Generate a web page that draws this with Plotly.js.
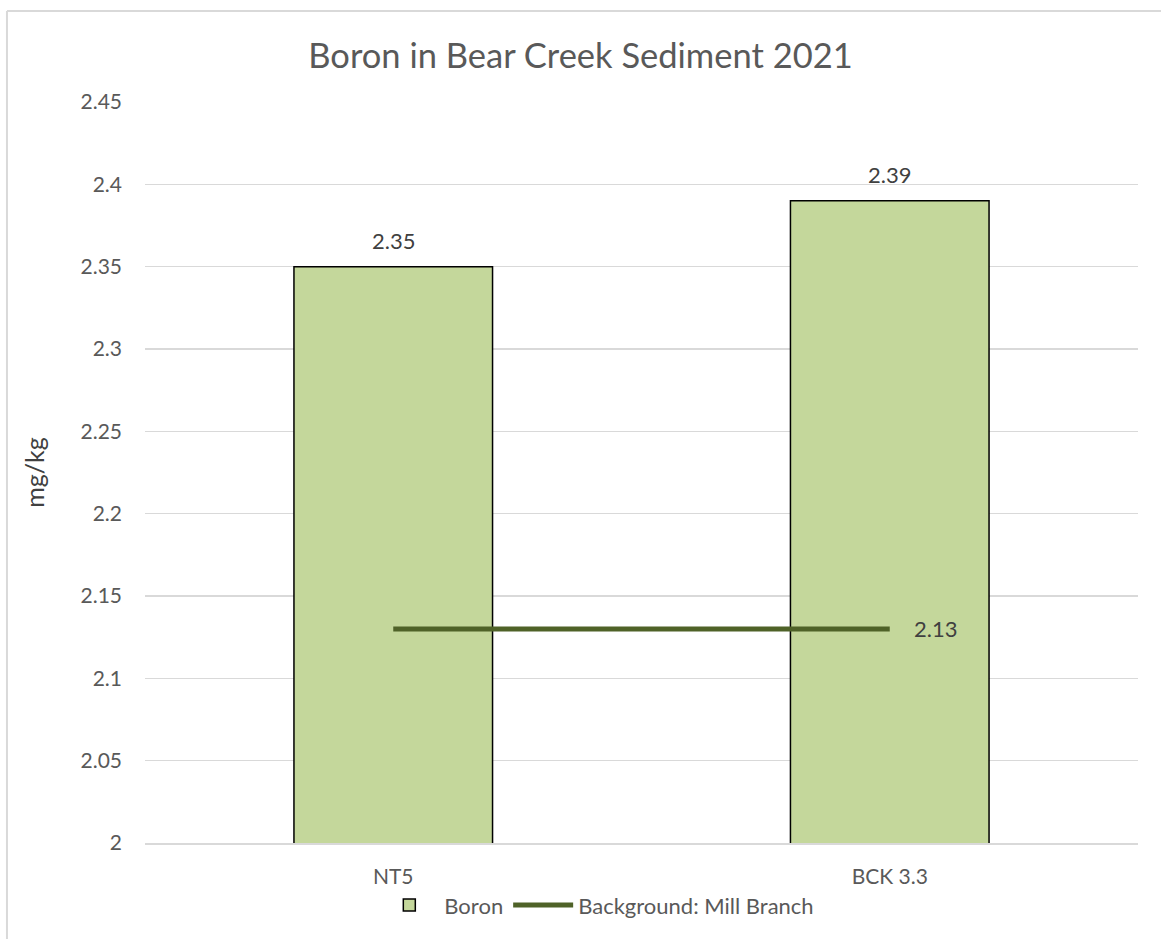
<!DOCTYPE html>
<html>
<head>
<meta charset="utf-8">
<script src="https://cdn.plot.ly/plotly-3.0.1.min.js"></script>
<style>html,body{margin:0;padding:0;background:#fff;}#chart{width:1161px;height:939px;}</style>
</head>
<body>
<div id="chart"></div>
<script>
const categories = ["NT5", "BCK 3.3"];
const boronValues = [2.35, 2.39];
const boronLabels = ["2.35", "2.39"];
const backgroundValues = [2.13, 2.13];
const backgroundLabel = "2.13";
const yTickValues = [2, 2.05, 2.1, 2.15, 2.2, 2.25, 2.3, 2.35, 2.4, 2.45];
const yTickLabels = ["2", "2.05", "2.1", "2.15", "2.2", "2.25", "2.3", "2.35", "2.4", "2.45"];

const font = "Lato, 'Open Sans', sans-serif";
const grey = "#595959";
const dark = "#404040";

const traces = [
  {
    type: "bar",
    name: "Boron",
    x: categories,
    y: boronValues,
    width: 0.4,
    marker: {color: "#C4D79B", line: {color: "#000000", width: 1.5}},
    hoverinfo: "x+y"
  },
  {
    type: "scatter",
    mode: "lines",
    name: "Background: Mill Branch",
    x: categories,
    y: backgroundValues,
    line: {color: "#4F6228", width: 5},
    cliponaxis: false
  }
];

const annotations = categories.map((c, i) => ({
  x: c, y: boronValues[i], xref: "x", yref: "y",
  text: boronLabels[i], showarrow: false,
  yshift: 26, yanchor: "middle", xanchor: "center",
  font: {family: font, size: 22, color: dark}
}));
annotations.push({
  x: categories[categories.length - 1], y: backgroundValues[backgroundValues.length - 1],
  xref: "x", yref: "y", text: backgroundLabel, showarrow: false,
  xanchor: "left", yanchor: "middle", xshift: 22,
  font: {family: font, size: 22, color: dark}
});

const layout = {
  width: 1161,
  height: 939,
  margin: {l: 145, r: 23, t: 102, b: 96},
  paper_bgcolor: "#ffffff",
  plot_bgcolor: "#ffffff",
  font: {family: font, color: grey, size: 21},
  title: {text: "Boron in Bear Creek Sediment 2021", font: {family: font, size: 34.5, color: grey}, x: 0.5, xanchor: "center", y: 0.94, yanchor: "middle"},
  bargap: 0.6,
  showlegend: true,
  legend: {orientation: "h", x: 0.455, xanchor: "center", y: -0.084, yanchor: "middle", font: {family: font, size: 22, color: grey}, traceorder: "normal", itemwidth: 60},
  annotations: annotations,
  xaxis: {
    type: "category",
    showgrid: false,
    showline: true,
    linecolor: "#d9d9d9",
    linewidth: 1.5,
    ticks: "",
    ticklabelstandoff: 14,
    tickfont: {family: font, size: 21, color: grey},
    zeroline: false
  },
  yaxis: {
    range: [2, 2.45],
    tickvals: yTickValues,
    ticktext: yTickLabels,
    showgrid: true,
    gridcolor: "#d9d9d9",
    gridwidth: 1.5,
    zeroline: false,
    showline: false,
    ticks: "",
    ticklabelstandoff: 22,
    tickfont: {family: font, size: 21, color: grey},
    title: {text: "mg/kg", font: {family: font, size: 25, color: dark}, standoff: 28}
  },
  shapes: [
    {type: "line", xref: "paper", yref: "paper", x0: -0.139, x1: 1.1, y0: 1.1228, y1: 1.1228, line: {color: "#d9d9d9", width: 2}},
    {type: "line", xref: "paper", yref: "paper", x0: -0.139, x1: -0.139, y0: 1.1228, y1: -0.2, line: {color: "#d9d9d9", width: 2}}
  ]
};

Plotly.newPlot("chart", traces, layout, {displayModeBar: false, staticPlot: true});
</script>
</body>
</html>
